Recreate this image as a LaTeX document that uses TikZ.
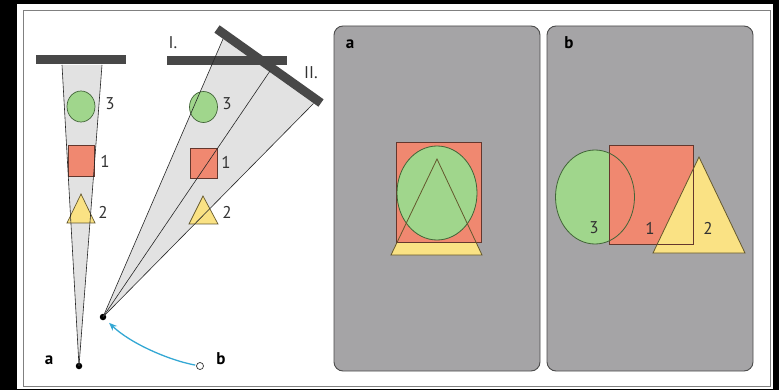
\documentclass[tikz,border=0pt]{standalone}
\usepackage{fontspec}
\setmainfont{PT Sans}
\usetikzlibrary{arrows.meta}
\definecolor{cgreen}{RGB}{160,214,140}
\definecolor{cred}{RGB}{240,136,112}
\definecolor{cyel}{RGB}{250,226,132}
\definecolor{panelgray}{RGB}{165,164,166}
\definecolor{conegray}{RGB}{226,226,226}
\definecolor{mirrorcol}{RGB}{72,72,72}
\definecolor{arrowblue}{RGB}{52,168,212}
\definecolor{lgreen}{RGB}{65,100,55}
\definecolor{lred}{RGB}{100,55,45}
\definecolor{lyel}{RGB}{100,88,45}
\definecolor{txt}{RGB}{50,50,50}
\begin{document}
\begin{tikzpicture}[x=1pt,y=-1pt,
  mirrorbar/.style={mirrorcol,line width=9pt},
  ray/.style={draw=black!85,line width=0.6pt},
  gshape/.style={fill=cgreen,draw=lgreen,line width=0.7pt},
  rshape/.style={fill=cred,draw=lred,line width=0.7pt},
  yshape/.style={fill=cyel,draw=lyel,line width=0.7pt},
  numlab/.style={text=txt,font=\fontsize{17}{19}\selectfont,inner sep=0pt},
  letlab/.style={text=black,font=\fontsize{17}{19}\selectfont\bfseries,inner sep=0pt},
  panelbox/.style={fill=panelgray,draw=black!70,line width=0.9pt,rounded corners=9pt},
  dotnode/.style={circle,fill=black,inner sep=0pt,minimum size=6.5pt},
  opendot/.style={circle,draw=black!80,fill=white,line width=0.7pt,inner sep=0pt,minimum size=7pt}]
\fill[black] (0,0) rectangle (779,390);
\useasboundingbox (0,0) rectangle (779,390);
\fill[white] (17,4) rectangle (773,389);
\draw[black!50,line width=1pt] (23,11) rectangle (770,386);

% ---------- left a ----------
\node[dotnode] (aDot) at (79,366) {};
\coordinate (aL) at (62,65);
\coordinate (aR) at (102,65);
\fill[conegray] (aL) -- (aR) -- (aDot.center) -- cycle;
\draw[mirrorbar] (36,60) -- (126,60);
\draw[gshape] (81,106.5) ellipse [x radius=14pt,y radius=15.5pt];
\draw[rshape] (68,145) rectangle (94,176);
\draw[yshape] (81,194) -- (67,223) -- (95,223) -- cycle;
\draw[ray] (aDot.center) -- (aL);
\draw[ray] (aDot.center) -- (aR);
\node[numlab] (a3) at (110,104) {3};
\node[numlab] (a1) at (105,161) {1};
\node[numlab] (a2) at (103,212) {2};
\node[letlab] (aLab) at (49,360) {a};

% ---------- left b ----------
\node[dotnode] (obsB) at (103,317) {};
\coordinate (r1) at (223,39);
\coordinate (r2) at (270,71);
\coordinate (r3) at (313.5,103.5);
\fill[conegray] (obsB.center) -- (r1) -- (r3) -- cycle;
\draw[mirrorbar] (167,61) -- (287,61);
\draw[mirrorbar] (217,29) -- (321,103);
\draw[gshape] (203.5,107) ellipse [x radius=14pt,y radius=15.5pt];
\draw[rshape] (190,148) rectangle (217,178);
\draw[yshape] (203,196) -- (189,224) -- (218,224) -- cycle;
\draw[ray] (obsB.center) -- (r1);
\draw[ray] (obsB.center) -- (r2);
\draw[ray] (obsB.center) -- (r3);
\node[numlab] (b3) at (227,104) {3};
\node[numlab] (b1) at (226,162) {1};
\node[numlab] (b2) at (227,212) {2};
\node[numlab] (mI) at (173,43) {I.};
\node[numlab] (mII) at (311,73) {II.};
\node[opendot] (oc) at (200,366) {};
\node[letlab] (bLab) at (221,359) {b};
\draw[arrowblue,line width=1.3pt,-{Stealth[length=8pt,width=6.5pt]},shorten >=5pt,shorten <=1pt]
  (oc) .. controls (168,360) and (130,343) .. (obsB);

% ---------- right panel a ----------
\draw[panelbox] (334,26) rectangle (540,371);
\node[letlab] (pa) at (350,44) {a};
\fill[cyel] (437,159) -- (391,255) -- (482,255) -- cycle;
\fill[cred] (396,142) rectangle (481,242);
\fill[cgreen] (437,193) ellipse [x radius=40pt,y radius=47pt];
\draw[lred,line width=0.8pt] (396,142) rectangle (481,242);
\draw[lgreen,line width=0.8pt] (437,193) ellipse [x radius=40pt,y radius=47pt];
\draw[lyel,line width=0.8pt] (437,159) -- (391,255) -- (482,255) -- cycle;

% ---------- right panel b ----------
\draw[panelbox] (547,26) rectangle (753,371);
\node[letlab] (pb) at (569,43) {b};
\fill[cgreen] (595,197) ellipse [x radius=39.5pt,y radius=47pt];
\fill[cred] (609,145) rectangle (693,244);
\fill[cyel] (699,157) -- (653,253) -- (745,253) -- cycle;
\draw[lred,line width=0.8pt] (609,145) rectangle (693,244);
\draw[lgreen,line width=0.8pt] (595,197) ellipse [x radius=39.5pt,y radius=47pt];
\draw[lyel,line width=0.8pt] (699,157) -- (653,253) -- (745,253) -- cycle;
\node[numlab] (p3) at (594,228) {3};
\node[numlab] (p1) at (650,228) {1};
\node[numlab] (p2) at (708,228) {2};
\end{tikzpicture}
\end{document}
